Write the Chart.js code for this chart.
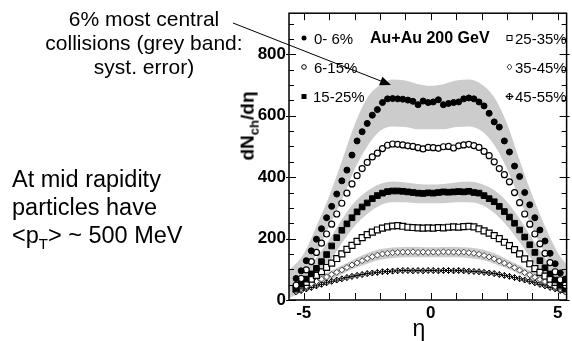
<!DOCTYPE html>
<html>
<head>
<meta charset="utf-8">
<script src="https://cdn.jsdelivr.net/npm/chart.js@4.4.0/dist/chart.umd.min.js"></script>
<style>
body { margin: 0; background: #fff; }
#wrap { position: relative; width: 572px; height: 341px; font-family: "Liberation Sans", Arial, sans-serif; color: #000; }
#wrap canvas { position: absolute; left: 0; top: 0; }
.t { position: absolute; white-space: nowrap; line-height: 1; }
.note { font-size: 21px; width: 220px; text-align: center; left: 34px; }
.side { font-size: 23.5px; left: 12px; }
.leg { font-size: 15px; }
</style>
</head>
<body>
<div id="wrap">
<canvas id="dndeta" width="572" height="341"></canvas>

<div class="t note" style="top:8px">6% most central</div>
<div class="t note" style="top:32px">collisions (grey band:</div>
<div class="t note" style="top:56px">syst. error)</div>

<div class="t side" style="top:168px">At mid rapidity</div>
<div class="t side" style="top:196px">particles have</div>
<div class="t side" style="top:224px">&lt;p<sub style="font-size:15px">T</sub>&gt; ~ 500 MeV</div>

<div class="t" style="left:249px;top:126px;font-size:19px;font-weight:bold;transform:translate(-50%,-50%) rotate(-90deg);">dN<sub style="font-size:13px">ch</sub>/dη</div>
<div class="t" style="left:419px;top:317px;font-size:23px;transform:translateX(-50%);">η</div>

<div class="t" style="left:370px;top:30px;font-size:16px;font-weight:bold;">Au+Au 200 GeV</div>
<div class="t leg" style="left:314px;top:31px">0- 6%</div>
<div class="t leg" style="left:314px;top:60px">6-15%</div>
<div class="t leg" style="left:313px;top:89px">15-25%</div>
<div class="t leg" style="left:515px;top:31px">25-35%</div>
<div class="t leg" style="left:515px;top:60px">35-45%</div>
<div class="t leg" style="left:515px;top:89px">45-55%</div>
</div>

<script>
// pseudorapidity bin centres
var eta = [-5.3,-5.1,-4.9,-4.7,-4.5,-4.3,-4.1,-3.9,-3.7,-3.5,-3.3,-3.1,-2.9,-2.7,-2.5,-2.3,-2.1,-1.9,-1.7,-1.5,-1.3,-1.1,-0.9,-0.7,-0.5,-0.3,-0.1,
           0.1,0.3,0.5,0.7,0.9,1.1,1.3,1.5,1.7,1.9,2.1,2.3,2.5,2.7,2.9,3.1,3.3,3.5,3.7,3.9,4.1,4.3,4.5,4.7,4.9,5.1,5.3];

// dNch/deta per centrality class
var c0_6   = [70,95,128,160,198,232,268,305,345,388,423,472,518,548,575,602,620,643,655,656,655,654,651,647,636,648,643,
              645,652,636,640,643,645,655,658,655,645,632,608,580,563,518,482,436,402,350,310,268,228,192,152,118,88,68];
var c6_15  = [48,70,98,125,155,185,215,247,280,315,348,378,405,428,448,466,478,493,504,508,507,505,502,500,496,492,497,
              496,494,499,500,495,502,505,507,503,497,484,470,450,428,408,385,350,317,280,247,215,183,152,122,92,66,48];
var c15_25 = [38,51,68,85,103,125,148,176,203,227,248,268,287,303,316,330,340,348,353,355,355,354,352,350,348,347,349,
              348,350,352,351,352,353,352,354,350,348,340,330,320,305,288,270,250,228,205,180,155,128,105,85,65,50,38];
var c25_35 = [36,46,57,68,80,92,106,120,135,150,165,178,191,203,213,221,228,234,238,241,242,240,237,236,235,234,235,
              234,236,235,237,238,237,239,240,238,232,225,218,210,200,188,177,164,150,134,118,102,90,78,68,57,46,36];
var c35_45 = [28,37,45,53,60,68,75,83,90,98,106,114,121,128,135,141,146,150,152,154,155,156,156,157,155,156,155,
              156,155,157,156,156,155,156,154,152,149,145,140,134,127,120,113,105,97,89,82,74,67,60,52,44,36,27];
var c45_55 = [26,31,36,41,46,51,56,61,65,69,73,77,80,83,86,88,90,92,93,94,95,96,96,95,96,95,96,
              96,95,96,96,95,96,95,94,93,92,90,88,86,83,80,77,73,69,65,61,56,51,46,41,36,31,26];

// systematic error bands (upper / lower edge)
var bandEta  = [-5.6,-5,-4.5,-4,-3.5,-3,-2.5,-2,-1.5,-1,-0.5,0,0.5,1,1.5,2,2.5,3,3.5,4,4.5,5,5.4];
var band0Hi  = [95,150,240,338,452,570,658,700,718,715,703,698,703,715,718,703,660,575,455,340,240,155,110];
var band0Lo  = [15,70,150,240,325,425,500,550,565,563,556,556,556,563,565,550,505,428,328,235,150,70,35];
var band15Hi = [50,85,138,195,262,318,355,378,386,383,378,376,378,383,386,378,358,320,265,200,138,88,60];
var band15Lo = [5,32,72,122,185,240,280,308,318,318,315,315,315,318,318,310,283,242,188,128,72,32,15];
var band35Hi = [32,52,74,92,112,133,152,165,171,173,173,172,173,173,171,165,152,133,112,92,74,52,38];
var band35Lo = [8,30,50,66,84,103,118,131,137,139,139,139,139,139,137,131,118,103,84,66,50,30,15];

var xTicks = [-5, 0, 5];
var yTicks = [0, 200, 400, 600, 800];

function pts(xs, ys) {
  return xs.map(function (x, i) { return { x: x, y: ys[i] }; });
}

function band(hi, lo) {
  var common = { showLine: true, borderWidth: 0, pointRadius: 0, cubicInterpolationMode: 'monotone', order: 10 };
  return [
    Object.assign({ data: pts(bandEta, hi), fill: '+1', backgroundColor: 'rgb(204,204,204)' }, common),
    Object.assign({ data: pts(bandEta, lo), fill: false }, common)
  ];
}

function marks(vals, style, r, bg, fg, bw) {
  return { data: pts(eta, vals), showLine: false, pointStyle: style, pointRadius: r,
           pointBackgroundColor: bg, pointBorderColor: fg, pointBorderWidth: bw, order: 0 };
}

// inner ticks on all four sides, frame, legend symbols and arrow
var decor = {
  id: 'decor',
  afterDatasetsDraw: function (chart) {
    var ctx = chart.ctx, a = chart.chartArea, x = chart.scales.x, y = chart.scales.y;
    ctx.save();
    ctx.strokeStyle = '#000';
    ctx.lineWidth = 1;
    ctx.beginPath();
    for (var v = -5; v <= 5; v++) {
      var px = Math.round(x.getPixelForValue(v)) + 0.5;
      ctx.moveTo(px, a.bottom); ctx.lineTo(px, a.bottom - 7);
      ctx.moveTo(px, a.top); ctx.lineTo(px, a.top + 7);
    }
    for (var w = 0; w <= 900; w += 50) {
      var py = Math.round(y.getPixelForValue(w)) + 0.5;
      var major = w % 200 === 0;
      ctx.moveTo(a.left - (major ? 3 : 0), py); ctx.lineTo(a.left + (major ? 7 : 5), py);
      ctx.moveTo(a.right + (major ? 3 : 0), py); ctx.lineTo(a.right - (major ? 7 : 5), py);
    }
    ctx.stroke();
    ctx.lineWidth = 1.5;
    ctx.strokeRect(a.left, a.top, a.right - a.left, a.bottom - a.top);
    ctx.restore();
  },
  afterDraw: function (chart) {
    var ctx = chart.ctx;
    ctx.save();
    ctx.fillStyle = '#000';
    ctx.strokeStyle = '#000';
    ctx.lineWidth = 1;
    // left column
    ctx.beginPath(); ctx.arc(304, 38, 2.5, 0, Math.PI * 2); ctx.fill();
    ctx.beginPath(); ctx.arc(304, 67, 2.3, 0, Math.PI * 2); ctx.fillStyle = '#fff'; ctx.fill(); ctx.stroke();
    ctx.fillStyle = '#000';
    ctx.fillRect(301.5, 94, 5, 5);
    // right column
    ctx.strokeRect(507, 35.5, 5, 5);
    ctx.beginPath();
    ctx.moveTo(509.5, 64); ctx.lineTo(512, 67); ctx.lineTo(509.5, 70); ctx.lineTo(507, 67); ctx.closePath();
    ctx.strokeStyle = '#444'; ctx.stroke();
    ctx.strokeStyle = '#000';
    ctx.beginPath();
    ctx.moveTo(509.5, 93); ctx.lineTo(513, 96.5); ctx.lineTo(509.5, 100); ctx.lineTo(506, 96.5); ctx.closePath();
    ctx.moveTo(506, 96.5); ctx.lineTo(513, 96.5); ctx.moveTo(509.5, 93); ctx.lineTo(509.5, 100);
    ctx.stroke();
    // arrow from the note to the central curve
    var x0 = 233, y0 = 23, x1 = 391, y1 = 85;
    var ang = Math.atan2(y1 - y0, x1 - x0);
    ctx.beginPath(); ctx.moveTo(x0, y0); ctx.lineTo(x1 - 8 * Math.cos(ang), y1 - 8 * Math.sin(ang)); ctx.stroke();
    ctx.beginPath();
    ctx.moveTo(x1, y1);
    ctx.lineTo(x1 - 11 * Math.cos(ang) + 4.5 * Math.sin(ang), y1 - 11 * Math.sin(ang) - 4.5 * Math.cos(ang));
    ctx.lineTo(x1 - 11 * Math.cos(ang) - 4.5 * Math.sin(ang), y1 - 11 * Math.sin(ang) + 4.5 * Math.cos(ang));
    ctx.closePath(); ctx.fill();
    ctx.restore();
  }
};

var tickFont = { family: '"Liberation Sans", Arial, sans-serif', size: 17, weight: 'bold' };

var datasets = [
  marks(c0_6, 'circle', 3, '#000', '#000', 1),
  marks(c6_15, 'circle', 3, '#fff', '#000', 1.2),
  marks(c15_25, 'rect', 4, '#000', '#000', 1),
  marks(c25_35, 'rect', 4.2, '#fff', '#000', 1.2),
  marks(c35_45, 'rectRot', 3, '#fff', '#444', 1),
  marks(c45_55, 'rectRot', 3, 'rgba(0,0,0,0)', '#000', 1),
  marks(c45_55, 'cross', 3, '#000', '#000', 1)
].concat(band(band0Hi, band0Lo), band(band15Hi, band15Lo), band(band35Hi, band35Lo));

var ctx = document.getElementById('dndeta').getContext('2d');
var chart = new Chart(ctx, {
  type: 'line',
  data: { datasets: datasets },
  options: {
    responsive: false,
    animation: false,
    devicePixelRatio: 1,
    layout: { padding: { left: 255, right: 2, top: 8, bottom: 0 } },
    plugins: {
      legend: { display: false },
      tooltip: { enabled: false },
      filler: { drawTime: 'beforeDatasetsDraw' }
    },
    scales: {
      x: {
        type: 'linear', min: -5.58, max: 5.35,
        grid: { display: false, drawTicks: false }, border: { display: false },
        afterBuildTicks: function (s) { s.ticks = xTicks.map(function (v) { return { value: v }; }); },
        afterFit: function (s) { s.height = 41; },
        ticks: { font: tickFont, color: '#000', padding: 3, maxRotation: 0, callback: function (v) { return String(v); } }
      },
      y: {
        type: 'linear', min: 0, max: 934,
        grid: { display: false, drawTicks: false }, border: { display: false },
        afterBuildTicks: function (s) { s.ticks = yTicks.map(function (v) { return { value: v }; }); },
        afterFit: function (s) { s.width = 34; },
        ticks: { font: tickFont, color: '#000', padding: 3, callback: function (v) { return String(v); } }
      }
    }
  },
  plugins: [decor]
});
</script>
</body>
</html>
